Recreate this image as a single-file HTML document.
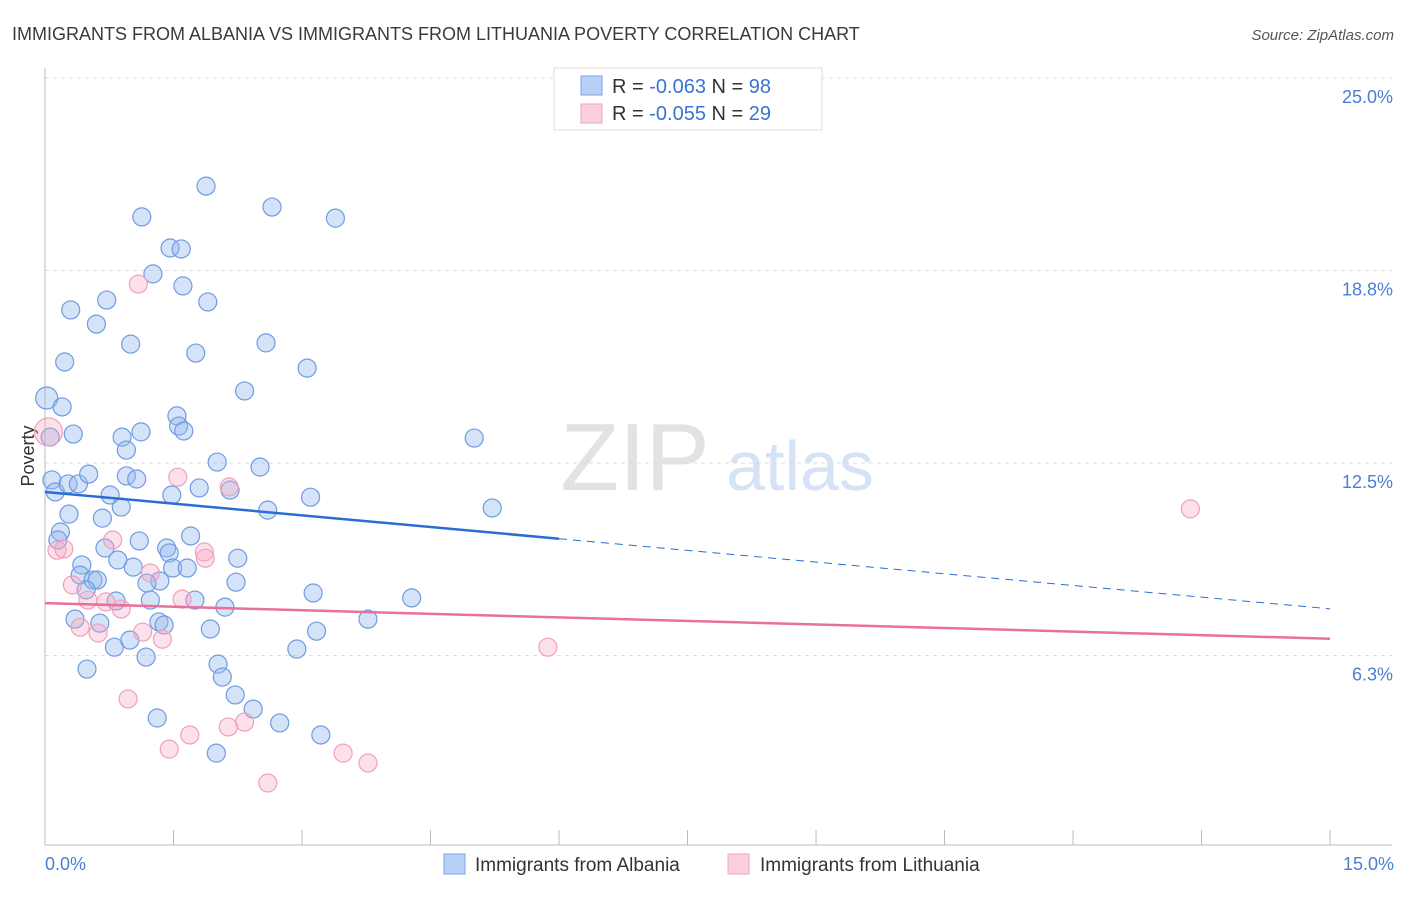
<!DOCTYPE html>
<html><head><meta charset="utf-8"><style>
body{margin:0;background:#fff;font-family:"Liberation Sans",sans-serif;}
svg text{font-family:"Liberation Sans",sans-serif;}
</style></head><body>
<svg width="1406" height="892" viewBox="0 0 1406 892">
<text x="12" y="40" font-size="18" fill="#3a3a3a">IMMIGRANTS FROM ALBANIA VS IMMIGRANTS FROM LITHUANIA POVERTY CORRELATION CHART</text>
<text x="1394" y="40" font-size="15" fill="#555" font-style="italic" text-anchor="end">Source: ZipAtlas.com</text>
<g>
<text x="635" y="490" font-size="96" fill="#e2e2e2" font-family="Liberation Serif" text-anchor="middle">ZIP</text>
<text x="800" y="490" font-size="70" fill="#d5e3f5" text-anchor="middle">atlas</text>
</g>
<g id="grid"></g>
<line x1="45" y1="68" x2="45" y2="845" stroke="#bbb"/>
<line x1="45" y1="845" x2="1392" y2="845" stroke="#bbb"/>
<g id="xticks"></g>
<text x="45" y="870" font-size="18" fill="#4a7fd4">0.0%</text>
<text x="1394" y="870" font-size="18" fill="#4a7fd4" text-anchor="end">15.0%</text>
<text x="34" y="456" font-size="18" fill="#333" text-anchor="middle" transform="rotate(-90 34 456)">Poverty</text>
<g id="pts"></g>
<g id="lines"></g>
<g>
<rect x="554" y="68" width="268" height="62" fill="#fff" stroke="#ddd"/>
<rect x="581" y="76" width="21" height="19" fill="#b8d0f5" stroke="#7aa3e5"/>
<rect x="581" y="104" width="21" height="19" fill="#fbcfdc" stroke="#f0a0bc"/>
<text x="612" y="93" font-size="20" fill="#333">R = <tspan fill="#3a73d0">-0.063</tspan>   N = <tspan fill="#3a73d0">98</tspan></text>
<text x="612" y="120" font-size="20" fill="#333">R = <tspan fill="#3a73d0">-0.055</tspan>   N = <tspan fill="#3a73d0">29</tspan></text>
</g>
<g>
<rect x="444" y="854" width="21" height="20" fill="#b8d0f5" stroke="#7aa3e5"/>
<text x="475" y="871" font-size="19" fill="#333">Immigrants from Albania</text>
<rect x="728" y="854" width="21" height="20" fill="#fbcfdc" stroke="#f0a0bc"/>
<text x="760" y="871" font-size="19" fill="#333">Immigrants from Lithuania</text>
</g>
</svg>
<script>
const yTicks=[25,18.75,12.5,6.25];
const yTickLabels=["25.0%","18.8%","12.5%","6.3%"];
const xTicks=[0,1.5,3,4.5,6,7.5,9,10.5,12,13.5,15];
const albaniaX=[.02,.20,.33,.06,.08,.12,.27,.39,.51,.18,.28,.67,.76,.89,.15,.70,.43,.41,.56,.61,.48,.83,.35,.64,.49,.81,.99,1.18,1.31,2.00,.30,.23,.60,.72,1.13,1.26,1.46,1.59,1.88,1.61,1.90,1.00,1.76,2.65,3.39,2.58,3.06,2.33,1.54,1.56,1.62,1.12,.90,.95,.95,1.07,1.48,1.80,2.16,2.01,2.51,3.10,2.60,5.01,5.22,1.70,1.10,.85,1.42,1.45,2.25,1.03,1.49,1.66,1.34,1.19,2.23,1.23,1.75,2.10,3.13,4.28,1.33,1.39,1.93,3.17,3.77,2.94,2.02,2.07,2.22,2.43,2.74,3.22];
const albaniaY=[14.61,14.32,13.44,13.34,11.95,11.56,11.82,11.82,12.14,10.26,10.84,10.71,11.46,11.07,10.00,9.74,9.19,8.86,8.70,8.70,8.38,8.02,7.43,7.30,5.81,6.52,6.75,6.20,4.22,3.08,17.47,15.78,17.01,17.79,20.49,18.64,19.48,19.45,21.49,18.25,17.73,16.36,16.07,20.81,20.45,16.40,15.58,14.84,14.03,13.70,13.54,13.51,13.34,12.92,12.08,11.98,11.46,11.69,11.62,12.53,12.37,11.39,10.97,13.31,11.04,10.13,9.97,9.35,9.74,9.58,9.41,9.12,9.09,9.09,8.67,8.60,8.63,8.05,8.05,7.82,8.28,8.12,7.34,7.24,7.11,7.04,7.43,6.46,5.97,5.55,4.97,4.51,4.06,3.67];
const lithX=[.04,.14,.22,.32,.50,.71,.79,.89,.41,.62,1.14,1.37,1.23,1.60,1.55,1.86,2.15,1.09,.97,1.45,1.69,2.14,2.33,2.60,3.48,3.77,5.87,13.37,1.87];
const lithY=[13.51,9.67,9.71,8.54,8.05,7.99,10.00,7.76,7.17,6.98,7.01,6.78,8.93,8.08,12.04,9.61,11.72,18.31,4.84,3.21,3.67,3.93,4.09,2.11,3.08,2.76,6.52,11.01,9.41];
const albaniaFit=[11.56,-0.253];
const lithFit=[7.95,-0.077];
const NS='http://www.w3.org/2000/svg';
const sx=v=>45+v*85.67, sy=v=>78+(25-v)*30.8;
function mk(t,a,p){const e=document.createElementNS(NS,t);for(const k in a)e.setAttribute(k,a[k]);p.appendChild(e);return e;}
const grid=document.getElementById('grid');
yTicks.forEach((v,i)=>{
 const l=mk('line',{x1:45,x2:1392,y1:sy(v),y2:sy(v),stroke:'#ddd','stroke-dasharray':'4,4'},grid);
 
 
 const t=mk('text',{x:1393,y:sy(v)+25,'font-size':18,fill:'#4a7fd4','text-anchor':'end'},grid);
 t.textContent=yTickLabels[i];
 
 
});
const xt=document.getElementById('xticks');
xTicks.forEach(v=>{
 const l=mk('line',{x1:sx(v),x2:sx(v),y1:830,y2:845,stroke:'#bbb'},xt);
 
 
});
const pts=document.getElementById('pts');
albaniaX.forEach((x,i)=>{
 const c=mk('circle',{cx:sx(x),cy:sy(albaniaY[i]),r:i<1?11:9,fill:'rgba(150,185,240,0.4)',stroke:'#6f9be0','stroke-width':1.2},pts);
 
 
});
lithX.forEach((x,i)=>{
 const c=mk('circle',{cx:sx(x),cy:sy(lithY[i]),r:i<1?14:9,fill:'rgba(245,165,195,0.35)',stroke:'#f0a0bc','stroke-width':1.2},pts);
 
 
});
const ln=document.getElementById('lines');
const f=(fit,x)=>fit[0]+fit[1]*x;
let a=mk('line',{x1:sx(0),y1:sy(f(albaniaFit,0)),x2:sx(6),y2:sy(f(albaniaFit,6)),stroke:'#2a6dd4','stroke-width':2.5},ln);


let b=mk('line',{x1:sx(6),y1:sy(f(albaniaFit,6)),x2:sx(15),y2:sy(f(albaniaFit,15)),stroke:'#2a6dd4','stroke-width':1,'stroke-dasharray':'8,6'},ln);


let c=mk('line',{x1:sx(0),y1:sy(f(lithFit,0)),x2:sx(15),y2:sy(f(lithFit,15)),stroke:'#e8709a','stroke-width':2.5},ln);


</script>
</body></html>
